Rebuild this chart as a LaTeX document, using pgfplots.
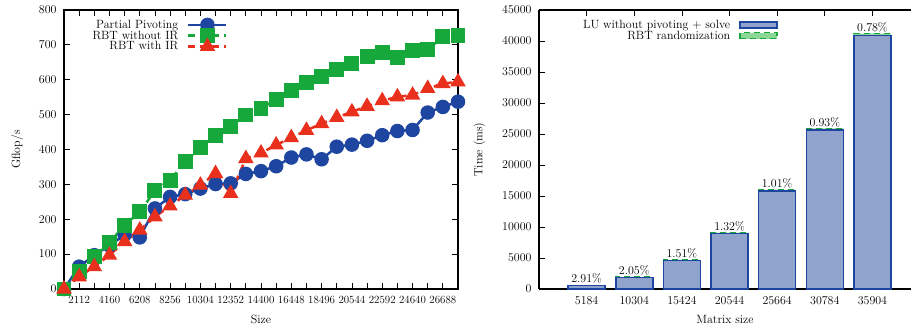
\documentclass[border=0pt]{standalone}
\usepackage{pgfplots}
\pgfplotsset{compat=1.18}
\definecolor{pblue}{RGB}{30,70,160}
\definecolor{pgreen}{RGB}{22,168,58}
\definecolor{pred}{RGB}{232,48,28}
\definecolor{barblue}{RGB}{143,163,204}
\definecolor{bargreen}{RGB}{140,215,150}

\pgfplotsset{
  lineleg/.style={legend image code/.code={\draw[mark repeat=2,mark phase=2,##1] plot coordinates {(0bp,0bp) (19bp,0bp) (38bp,0bp)};}},
  barleg/.style={legend image code/.code={\draw[##1] (0bp,-3bp) rectangle (37bp,3bp);}},
}

\pgfplotstableread{
x pp nir ir
1088 0 0 0
2112 64 50 35
3136 97 93 64
4160 125 133 97
5184 155 183 136
6208 148 221 169
7232 231 282 207
8256 264 312 238
9280 272 365 269
10304 288 406 298
11328 301 441 331
12352 303 467 274
13376 330 499 374
14400 338 518 390
15424 352 543 413
16448 377 568 434
17472 386 592 455
18496 372 610 474
19520 408 629 492
20544 414 647 508
21568 425 666 524
22592 441 678 540
23616 453 664 551
24640 456 683 556
25664 506 687 575
26688 522 723 589
27712 537 728 594
}\perf

\pgfplotstableread{
x lu rbt pct
1 583 17 2.91
2 1861 39 2.05
3 4580 70 1.51
4 8980 120 1.32
5 15838 162 1.01
6 25659 241 0.93
7 40879 321 0.78
}\bars

\begin{document}
\begin{tikzpicture}[font=\fontsize{12}{14}\selectfont]
\useasboundingbox (-64bp,-39bp) rectangle (848bp,289bp);
\begin{axis}[
  at={(0,0)}, anchor=south west,
  scale only axis, width=394bp, height=279bp,
  xmin=1088, xmax=27712, ymin=0, ymax=800,
  xtick={2112,4160,6208,8256,10304,12352,14400,16448,18496,20544,22592,24640,26688},
  xticklabels={2112,4160,6208,8256,10304,12352,14400,16448,18496,20544,22592,24640,26688},
  minor xtick={3136,5184,7232,9280,11328,13376,15424,17472,19520,21568,23616,25664},
  ytick={0,100,...,800},
  tick align=inside, major tick length=6bp, minor tick length=6bp,
  tick style={black, line width=0.8bp},
  axis line style={line width=1.2bp},
  scaled x ticks=false,
  /pgf/number format/set thousands separator={},
  xticklabel style={font=\fontsize{11}{13}\selectfont, yshift=-4bp},
  yticklabel style={xshift=-4bp},
  xlabel={Size}, ylabel={Gflop/s},
  xlabel style={yshift=-4bp},
  ylabel style={yshift=9bp},
  legend style={at={(0.416,0.972)}, anchor=north east, draw=none, fill=none,
    font=\fontsize{12}{12}\selectfont, row sep=-3bp, inner sep=0pt, column sep=7bp},
  legend cell align=right, legend plot pos=right,
]
\addplot[pblue, line width=2.5bp, mark=*, mark size=6bp, mark options={solid}, lineleg]
  table[x=x,y=pp]{\perf};
\addlegendentry{Partial Pivoting}
\addplot[pgreen, line width=2.5bp, dash pattern=on 7bp off 5bp, mark=square*, mark size=6.2bp, mark options={solid}, lineleg]
  table[x=x,y=nir]{\perf};
\addlegendentry{RBT without IR}
\addplot[pred, line width=2.5bp, dash pattern=on 7bp off 5bp, mark=triangle*, mark size=6.5bp, mark options={solid}, lineleg]
  table[x=x,y=ir]{\perf};
\addlegendentry{RBT with IR}
\end{axis}

\begin{axis}[
  at={(475bp,0)}, anchor=south west,
  scale only axis, width=372bp, height=279bp,
  axis x line=box, axis y line=left,
  x axis line style={-}, y axis line style={-},
  axis line style={line width=1.2bp},
  xmin=0, xmax=7.81, ymin=0, ymax=45000,
  ybar stacked, bar width=37bp,
  xtick={1,...,7},
  xticklabels={5184,10304,15424,20544,25664,30784,35904},
  xtick pos=top, xticklabel pos=bottom,
  ytick={0,5000,...,45000},
  tick align=inside, major tick length=6bp,
  tick style={black, line width=0.8bp},
  scaled y ticks=false,
  /pgf/number format/set thousands separator={},
  xticklabel style={yshift=-4bp},
  yticklabel style={xshift=-4bp},
  xlabel={Matrix size}, ylabel={Time (ms)},
  xlabel style={yshift=-4bp},
  ylabel style={yshift=10bp},
  legend style={at={(0.642,0.972)}, anchor=north east, draw=none, fill=none,
    font=\fontsize{12}{12}\selectfont, row sep=-3bp, inner sep=0pt, column sep=7bp},
  legend cell align=right, legend plot pos=right,
]
\addplot[draw=pblue, fill=barblue, line width=1.5bp, barleg]
  table[x=x,y=lu]{\bars};
\addlegendentry{LU without pivoting + solve}
\addplot[draw=pgreen, fill=bargreen, line width=1.5bp, dash pattern=on 6bp off 4bp,
  point meta=explicit,
  nodes near coords={\pgfmathprintnumber[fixed,fixed zerofill,precision=2]{\pgfplotspointmeta}\%},
  nodes near coords style={font=\fontsize{12}{14}\selectfont, text=black, anchor=south, inner sep=1.5bp, solid},
  barleg]
  table[x=x,y=rbt,meta=pct]{\bars};
\addlegendentry{RBT randomization}
\end{axis}
\end{tikzpicture}
\end{document}
